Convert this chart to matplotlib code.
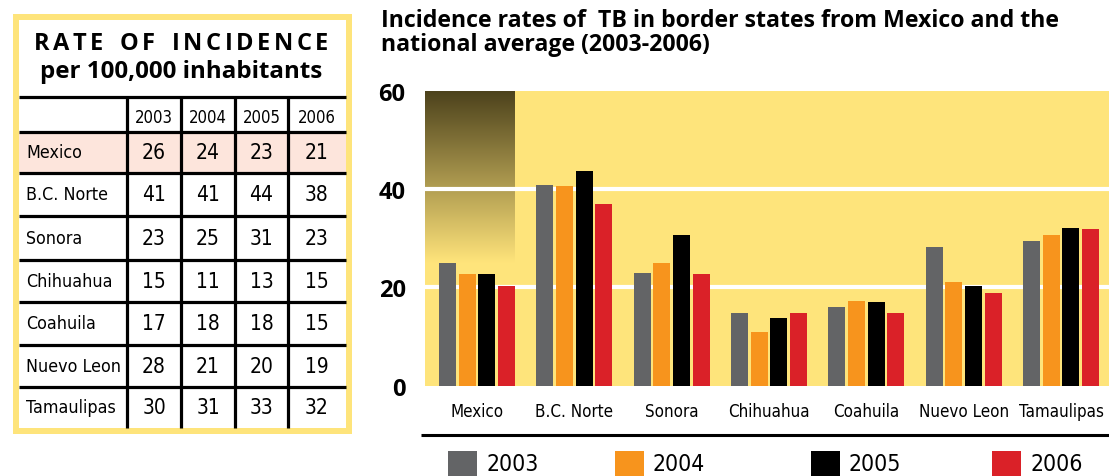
import numpy as np
import matplotlib; matplotlib.use("Agg")
import matplotlib.pyplot as plt
from matplotlib.patches import Rectangle
from matplotlib import font_manager as fm

# ---- data ----
states = ["Mexico", "B.C. Norte", "Sonora", "Chihuahua", "Coahuila", "Nuevo Leon", "Tamaulipas"]
years = ["2003", "2004", "2005", "2006"]
# numbers printed in the table
table_2003 = [26, 41, 23, 15, 17, 28, 30]
table_2004 = [24, 41, 25, 11, 18, 21, 31]
table_2005 = [23, 44, 31, 13, 18, 20, 33]
table_2006 = [21, 38, 23, 15, 15, 19, 32]
# bar heights as drawn in the chart
bars_2003 = [24.9, 40.9, 22.9, 14.9, 16.1, 28.2, 29.4]
bars_2004 = [22.7, 40.7, 24.9, 11.0, 17.3, 21.2, 30.6]
bars_2005 = [22.7, 43.8, 30.6, 13.7, 17.1, 20.2, 32.1]
bars_2006 = [20.4, 37.0, 22.7, 14.7, 14.9, 18.8, 31.9]
yticks = [0, 20, 40, 60]

colors = ["#636466", "#F7941D", "#000000", "#DA2128"]
YEL = "#FEE47B"
BOLD = ["Open Sans", "DejaVu Sans"]

# condensed face if one is installed, else Roboto (narrowest of the usual ones)
narrow_file = None
for f in fm.fontManager.ttflist:
    if ("Narrow" in f.name or "Condensed" in f.name or f.stretch in ("condensed", "semi-condensed")) \
            and f.weight in (400, "normal", "regular") and f.style == "normal":
        narrow_file = f.fname
        break

def nfont(size):
    if narrow_file:
        return fm.FontProperties(fname=narrow_file, size=size)
    return fm.FontProperties(family=["Roboto", "DejaVu Sans"], size=size)

W, H = 1109, 477
fig = plt.figure(figsize=(W/100, H/100), dpi=100)
fig.patch.set_facecolor("white")
rend = fig.canvas.get_renderer()

# overlay in pixel coordinates for table, title, legend
ov = fig.add_axes([0, 0, 1, 1], zorder=0)
ov.set_xlim(0, W); ov.set_ylim(H, 0); ov.axis("off")

def fit(t, width):
    w = t.get_window_extent(renderer=rend).width
    t.set_fontsize(t.get_fontsize() * width / w)

def common_size(texts, size, width):
    # one size for the whole group so the widest label fits
    probe = [ov.text(0, 0, s, fontproperties=nfont(size)) for s in texts]
    wmax = max(p.get_window_extent(renderer=rend).width for p in probe)
    for p in probe:
        p.remove()
    return min(size, size * width / wmax)

# ---- table on the left ----
ov.add_patch(Rectangle((13, 15), 339, 420, facecolor=YEL, edgecolor="none"))
ov.add_patch(Rectangle((19, 21), 327, 408, facecolor="white", edgecolor="none"))
ov.add_patch(Rectangle((19, 133), 327, 41, facecolor="#FDE5DC", edgecolor="none"))
for yl in [98, 133, 174, 217, 261, 303, 346, 388]:
    ov.plot([19, 346], [yl, yl], color="black", lw=2.3, solid_capstyle="butt")
for xl in [127, 181, 235, 288]:
    ov.plot([xl, xl], [98, 429], color="black", lw=2.3, solid_capstyle="butt")

# letter-spaced heading
head = "RATE OF INCIDENCE"
chars = [ov.text(0, 50, c, fontsize=17, fontweight="bold", family=BOLD, va="baseline")
         for c in head]
widths = [t.get_window_extent(renderer=rend).width for t in chars]
gw = [1 if head[i] != " " and head[i+1] != " " else 1.5 for i in range(len(head)-1)]
g = (294 - sum(widths)) / sum(gw)
x = 34
for i, (t, w) in enumerate(zip(chars, widths)):
    t.set_x(x)
    if i < len(head) - 1:
        x += w + g * gw[i]
sub = ov.text(181, 78, "per 100,000 inhabitants", fontsize=16, fontweight="bold",
              family=BOLD, ha="center", va="baseline")
fit(sub, 282)

col_x = [154, 208, 261.5, 317]
row_y = [153.5, 195.5, 239, 282, 324.5, 367, 408.5]
row_size = common_size(states, 15, 95)
for cx, yr in zip(col_x, years):
    ov.text(cx, 118, yr, fontproperties=nfont(12), ha="center", va="center")
for r, st in enumerate(states):
    ov.text(26, row_y[r], st, fontproperties=nfont(row_size), ha="left", va="center")
    for cx, col in zip(col_x, [table_2003, table_2004, table_2005, table_2006]):
        ov.text(cx, row_y[r], str(col[r]), fontproperties=nfont(15),
                ha="center", va="center")

# ---- chart title ----
t1 = ov.text(381, 27, "Incidence rates of  TB in border states from Mexico and the",
             fontsize=14, fontweight="bold", family=BOLD, va="baseline")
fit(t1, 684)
ov.text(381, 51, "national average (2003-2006)", fontsize=t1.get_fontsize(),
        fontweight="bold", family=BOLD, va="baseline")

# ---- bar chart ----
ax = fig.add_axes([425/W, (H-386.7)/H, (W-425)/W, (386.7-92)/H], zorder=1)
ax.set_facecolor(YEL)
xs = np.arange(len(states))
bw, step = 0.175, 0.2025
grad = np.linspace(0, 1, 200)[:, None]
c_top = np.array([0.30, 0.26, 0.11]); c_bot = np.array([1.0, 0.894, 0.482])
img = c_top[None, None, :] * (1 - grad[..., None]) + c_bot[None, None, :] * grad[..., None]
ax.imshow(img, extent=[-0.534, 0.385, 25, 60], aspect="auto", origin="upper", zorder=1)
for yv in [20, 40]:
    ax.axhline(yv, color="white", lw=3, zorder=2)
for k, vals in enumerate([bars_2003, bars_2004, bars_2005, bars_2006]):
    ax.bar(xs + (k - 1.5) * step, vals, width=bw, color=colors[k], zorder=3)
ax.set_xlim(-0.534, 6.493); ax.set_ylim(0, 60)
for s in ax.spines.values():
    s.set_visible(False)
ax.set_yticks(yticks)
ax.set_yticklabels([str(v) for v in yticks], fontsize=17, fontweight="bold", family=BOLD)
cat_size = common_size(states, 16, 90)
ax.set_xticks(xs)
ax.set_xticklabels(states, fontproperties=nfont(cat_size))
ax.tick_params(axis="y", length=0, pad=14)
ax.tick_params(axis="x", length=0, pad=12)

# rule under category labels
ov.plot([421, W], [436, 436], color="black", lw=2.2, solid_capstyle="butt")

# ---- legend ----
for lx, yr, c in zip([448, 615, 811, 992], years, colors):
    ov.add_patch(Rectangle((lx, 452), 29, 30, facecolor=c, edgecolor="none"))
    ov.text(lx + 38, 476, yr, fontproperties=nfont(16.5), va="bottom", ha="left")

fig.savefig("out.png", dpi=100)
